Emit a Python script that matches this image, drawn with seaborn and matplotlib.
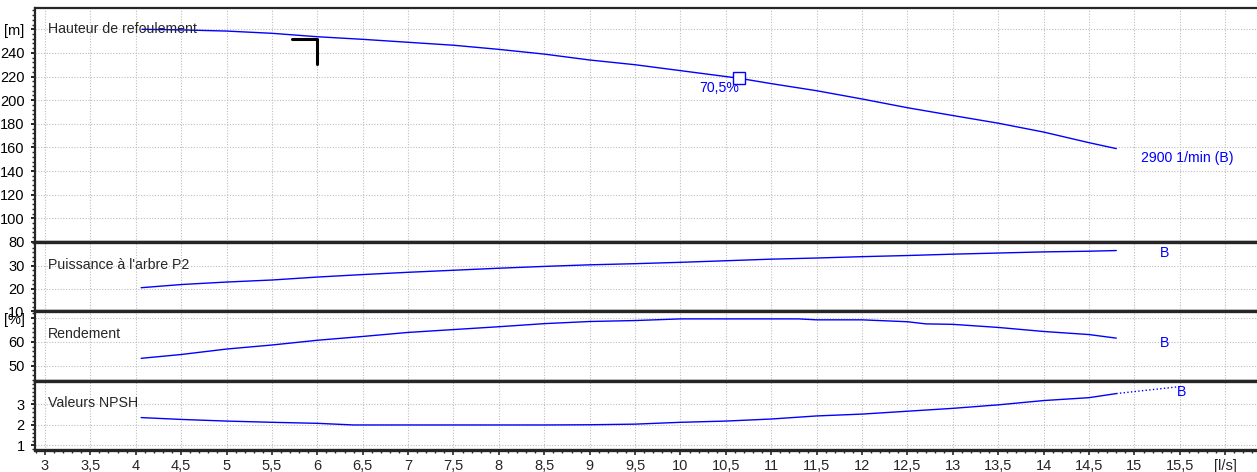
import matplotlib
matplotlib.use("Agg")
import seaborn as sns
from matplotlib import pyplot as plt
from matplotlib.ticker import AutoMinorLocator, FixedLocator, MultipleLocator

# flow rates [l/s]
flow_head = [4.07, 4.5, 5.0, 5.5, 6.0, 6.5, 7.0, 7.5, 8.0, 8.5, 9.0, 9.5, 10.0,
             10.65, 11.0, 11.5, 12.0, 12.5, 13.0, 13.5, 14.0, 14.5, 14.8]
head = [260, 259.5, 258.5, 256.6, 253.7, 251.5, 249, 246.5, 243, 239, 234,
        230, 225, 218.5, 214, 208, 201, 193.6, 187, 180.5, 173, 164, 159]

flow_p2 = [4.06, 4.5, 5.0, 5.5, 6.0, 6.5, 7.0, 7.5, 8.0, 8.5, 9.0, 9.5, 10.0,
           10.5, 11.0, 11.5, 12.0, 12.5, 13.0, 13.5, 14.0, 14.5, 14.8]
power_p2 = [20.4, 21.8, 22.9, 23.8, 25.1, 26.2, 27.2, 28.1, 29.0, 29.8, 30.5,
            31.0, 31.6, 32.3, 33.0, 33.5, 34.1, 34.6, 35.2, 35.7, 36.2, 36.5, 36.8]

flow_eff = [4.06, 4.5, 5.0, 5.5, 6.0, 6.5, 7.0, 7.5, 8.0, 8.5, 9.0, 9.5, 10.0,
            10.5, 11.0, 11.3, 11.5, 12.0, 12.5, 12.7, 13.0, 13.5, 14.0, 14.5, 14.8]
efficiency = [53.1, 54.7, 57.0, 58.7, 60.7, 62.3, 64.0, 65.2, 66.4, 67.7, 68.6,
              69.0, 69.7, 69.7, 69.7, 69.7, 69.3, 69.3, 68.5, 67.6, 67.4, 66.1,
              64.4, 63.1, 61.6]

flow_npsh = [4.06, 4.5, 5.0, 5.5, 6.0, 6.4, 7.0, 7.5, 8.0, 8.5, 9.0, 9.5, 10.0,
             10.5, 11.0, 11.5, 12.0, 12.5, 13.0, 13.5, 14.0, 14.5, 14.8]
npsh = [2.35, 2.26, 2.18, 2.12, 2.07, 1.99, 1.99, 1.99, 1.99, 1.99, 2.0, 2.03,
        2.12, 2.18, 2.28, 2.43, 2.52, 2.66, 2.8, 2.97, 3.18, 3.32, 3.52]
flow_npsh_ext = [14.8, 15.5]
npsh_ext = [3.52, 3.86]

duty_flow = [5.72, 6.0, 6.0]
duty_head = [251.8, 251.8, 231]
bep_flow = [10.65]
bep_head = [218.5]

x_ticks = [3, 3.5, 4, 4.5, 5, 5.5, 6, 6.5, 7, 7.5, 8, 8.5, 9, 9.5, 10, 10.5,
           11, 11.5, 12, 12.5, 13, 13.5, 14, 14.5, 15, 15.5, 16]
x_labels = [f"{v:g}".replace(".", ",") for v in x_ticks[:-1]] + ["[l/s]"]

BLUE = "#0000ff"
FS_TEXT = 10.2
FS_TICK = 10.5

sns.set_style("white")
plt.rcParams["font.family"] = ["Liberation Sans", "DejaVu Sans"]
plt.rcParams["font.size"] = FS_TEXT

fig, axs = plt.subplots(
    4, 1, sharex=True, figsize=(12.57, 4.72), dpi=100,
    gridspec_kw={"height_ratios": [233.7, 69.3, 69.3, 69.3], "hspace": 0},
)
fig.subplots_adjust(left=0.0278, right=1.0, top=0.983, bottom=0.0466)
ax_h, ax_p, ax_e, ax_n = axs

line_kw = dict(color=BLUE, lw=1.0, sort=False, estimator=None)
sns.lineplot(x=flow_head, y=head, ax=ax_h, **line_kw)
sns.lineplot(x=duty_flow, y=duty_head, ax=ax_h, color="black", lw=2.2,
             sort=False, estimator=None)
ax_h.plot(bep_flow, bep_head, marker="s", ms=9, mfc="white", mec=BLUE, mew=1.0,
          ls="none", zorder=5)
sns.lineplot(x=flow_p2, y=power_p2, ax=ax_p, **line_kw)
sns.lineplot(x=flow_eff, y=efficiency, ax=ax_e, **line_kw)
sns.lineplot(x=flow_npsh, y=npsh, ax=ax_n, **line_kw)
sns.lineplot(x=flow_npsh_ext, y=npsh_ext, ax=ax_n, ls=":", **line_kw)

# y ranges / ticks per panel
panels = [
    (ax_h, (80, 278), [80, 100, 120, 140, 160, 180, 200, 220, 240, 260],
     ["80", "100", "120", "140", "160", "180", "200", "220", "240", "[m]"]),
    (ax_p, (10, 40.6), [10, 20, 30], ["10", "20", "30"]),
    (ax_e, (43.7, 72.9), [50, 60, 70], ["50", "60", "[%]"]),
    (ax_n, (0.77, 4.15), [1, 2, 3], ["1", "2", "3"]),
]
for ax, ylim, yt, yl in panels:
    ax.set_ylim(*ylim)
    ax.yaxis.set_major_locator(FixedLocator(yt))
    ax.set_yticklabels(yl)
    ax.yaxis.set_minor_locator(AutoMinorLocator(5))
    ax.set_xlim(2.89, 16.35)
    ax.grid(True, which="major", color="#bdbdbd", ls=(0, (1, 1.5)), lw=0.8)
    ax.set_axisbelow(True)
    ax.spines["right"].set_visible(False)
    ax.spines["left"].set_linewidth(1.6)
    ax.spines["top"].set_linewidth(2.4)
    ax.spines["bottom"].set_linewidth(2.4)
    ax.tick_params(axis="y", which="major", direction="out", length=3, width=1.2,
                   left=True, labelsize=FS_TICK, pad=4.5, colors="black")
    ax.tick_params(axis="y", which="minor", direction="out", length=2.2, width=1,
                   left=True)
    ax.set_ylabel("")

ax_h.spines["top"].set_linewidth(1.6)

ax_n.xaxis.set_major_locator(FixedLocator(x_ticks))
ax_n.xaxis.set_minor_locator(MultipleLocator(0.1))
ax_n.set_xticklabels(x_labels)
ax_n.tick_params(axis="x", which="major", direction="out", length=3.6, width=1.2,
                 bottom=True, labelsize=FS_TICK, pad=2.6)
ax_n.tick_params(axis="x", which="minor", direction="out", length=2.2, width=1,
                 bottom=True)
for ax in axs[:-1]:
    ax.tick_params(axis="x", which="both", bottom=False, top=False)

# panel titles
ax_h.text(3.03, 260, "Hauteur de refoulement", va="center", ha="left", fontsize=FS_TEXT)
ax_p.text(3.03, 30.6, "Puissance à l'arbre P2", va="center", ha="left", fontsize=FS_TEXT)
ax_e.text(3.03, 63.4, "Rendement", va="center", ha="left", fontsize=FS_TEXT)
ax_n.text(3.03, 3.06, "Valeurs NPSH", va="center", ha="left", fontsize=FS_TEXT)

# annotations
ax_h.text(10.65, 210.5, "70,5%", color=BLUE, ha="right", va="center", fontsize=FS_TEXT)
ax_h.text(15.07, 151.2, "2900 1/min (B)", color=BLUE, ha="left", va="center", fontsize=FS_TEXT)
ax_p.text(15.33, 35.5, "B", color=BLUE, ha="center", va="center", fontsize=FS_TEXT)
ax_e.text(15.33, 59.4, "B", color=BLUE, ha="center", va="center", fontsize=FS_TEXT)
ax_n.text(15.47, 3.62, "B", color=BLUE, ha="left", va="center", fontsize=FS_TEXT)

fig.savefig("out.png", dpi=100)
